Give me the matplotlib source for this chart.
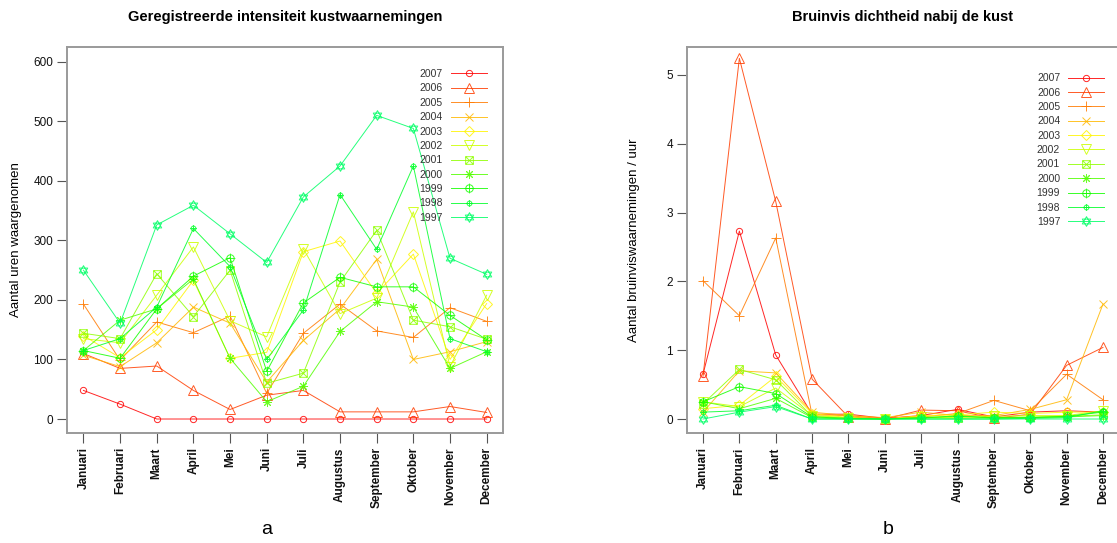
import colorsys
import matplotlib
matplotlib.use("Agg")
import matplotlib.pyplot as plt
from matplotlib.path import Path

plt.rcParams['font.family'] = ['Liberation Sans', 'DejaVu Sans']

# maanden en jaren
maanden = ['Januari', 'Februari', 'Maart', 'April', 'Mei', 'Juni', 'Juli',
           'Augustus', 'September', 'Oktober', 'November', 'December']
jaren = ['2007', '2006', '2005', '2004', '2003', '2002', '2001', '2000',
         '1999', '1998', '1997']

# uren waargenomen (paneel a)
uren_2007 = [48, 25, 0, 0, 0, 0, 0, 0, 0, 0, 0, 0]
uren_2006 = [110, 85, 89, 48, 16, 40, 48, 12, 12, 12, 21, 11]
uren_2005 = [193, 99, 163, 145, 173, 43, 144, 193, 148, 137, 187, 164]
uren_2004 = [107, 88, 128, 188, 161, 62, 132, 185, 268, 100, 113, 130]
uren_2003 = [140, 103, 150, 233, 102, 112, 281, 299, 211, 277, 100, 194]
uren_2002 = [135, 128, 208, 289, 165, 138, 286, 177, 203, 348, 88, 208]
uren_2001 = [144, 135, 244, 172, 250, 60, 77, 230, 317, 166, 155, 134]
uren_2000 = [115, 166, 185, 235, 102, 29, 55, 147, 197, 188, 85, 113]
uren_1999 = [115, 102, 185, 240, 271, 80, 195, 238, 222, 222, 174, 133]
uren_1998 = [115, 135, 188, 320, 256, 100, 183, 377, 285, 425, 135, 113]
uren_1997 = [250, 161, 326, 359, 311, 263, 373, 425, 510, 488, 270, 243]

# bruinvissen per uur (paneel b)
dicht_2007 = [0.65, 2.73, 0.93, 0.07, 0.07, 0.01, 0.05, 0.14, 0.03, 0.10, 0.12, 0.10]
dicht_2006 = [0.62, 5.24, 3.16, 0.58, 0.03, 0.00, 0.13, 0.12, 0.01, 0.07, 0.78, 1.04]
dicht_2005 = [2.01, 1.50, 2.63, 0.06, 0.05, 0.00, 0.03, 0.08, 0.27, 0.12, 0.65, 0.28]
dicht_2004 = [0.10, 0.70, 0.67, 0.10, 0.05, 0.02, 0.10, 0.05, 0.05, 0.14, 0.28, 1.67]
dicht_2003 = [0.15, 0.20, 0.62, 0.08, 0.02, 0.00, 0.05, 0.06, 0.10, 0.08, 0.10, 0.10]
dicht_2002 = [0.25, 0.18, 0.45, 0.05, 0.02, 0.00, 0.03, 0.02, 0.04, 0.05, 0.05, 0.12]
dicht_2001 = [0.22, 0.72, 0.57, 0.04, 0.01, 0.00, 0.02, 0.01, 0.02, 0.03, 0.04, 0.06]
dicht_2000 = [0.25, 0.15, 0.30, 0.02, 0.00, 0.00, 0.01, 0.05, 0.01, 0.02, 0.03, 0.05]
dicht_1999 = [0.25, 0.47, 0.37, 0.03, 0.01, 0.00, 0.02, 0.04, 0.02, 0.02, 0.04, 0.10]
dicht_1998 = [0.10, 0.12, 0.20, 0.00, 0.00, 0.00, 0.00, 0.00, 0.00, 0.01, 0.02, 0.12]
dicht_1997 = [0.00, 0.10, 0.18, 0.00, 0.00, 0.00, 0.00, 0.00, 0.00, 0.00, 0.00, 0.00]

uren = [uren_2007, uren_2006, uren_2005, uren_2004, uren_2003, uren_2002,
        uren_2001, uren_2000, uren_1999, uren_1998, uren_1997]
dicht = [dicht_2007, dicht_2006, dicht_2005, dicht_2004, dicht_2003, dicht_2002,
         dicht_2001, dicht_2000, dicht_1999, dicht_1998, dicht_1997]

# kleuren zoals rainbow(11, end=0.4) in R
kleuren = [colorsys.hsv_to_rgb(0.04 * i, 1, 1) for i in range(11)]


def samen(*paden):
    return Path.make_compound_path(*paden)


vierkant_kruis = samen(
    Path([(-1, -1), (1, -1), (1, 1), (-1, 1), (-1, -1)]),
    Path([(-1, -1), (1, 1)]), Path([(-1, 1), (1, -1)]))
cirkel_plus = samen(Path.unit_circle(),
                    Path([(-1.3, 0), (1.3, 0)]), Path([(0, -1.3), (0, 1.3)]))
davidster = samen(
    Path([(0, 1), (-0.866, -0.5), (0.866, -0.5), (0, 1)]),
    Path([(0, -1), (-0.866, 0.5), (0.866, 0.5), (0, -1)]))

markers = ['o', '^', '+', 'x', 'D', 'v', vierkant_kruis, (8, 2, 0),
           cirkel_plus, cirkel_plus, davidster]
msizes = [4.5, 6.5, 7.5, 5.5, 5.5, 6.5, 5.5, 6.5, 7, 4.5, 7]

fig = plt.figure(figsize=(11.17, 5.43), dpi=100)
ax1 = fig.add_axes([67.3 / 1117, 1 - 433.3 / 543, 435.5 / 1117, 385.8 / 543])
ax2 = fig.add_axes([687 / 1117, 1 - 433.4 / 543, 432 / 1117, 386.1 / 543])

x = list(range(12))
for ax, reeksen in [(ax1, uren), (ax2, dicht)]:
    for i, jaar in enumerate(jaren):
        ax.plot(x, reeksen[i], color=kleuren[i], lw=0.7, alpha=0.85,
                marker=markers[i], ms=msizes[i], mfc='none', mew=0.7,
                label=jaar)
    ax.set_xlim(-0.44, 11.44)
    ax.set_xticks(x)
    ax.set_xticklabels(maanden, rotation=90, fontsize=8.5, fontweight='bold')
    for s in ax.spines.values():
        s.set_color('#9a9a9a')
        s.set_linewidth(1.4)
    ax.tick_params(length=7, width=0.8, color='#555555', labelsize=8.5,
                   labelcolor='#111111', pad=3)

ax1.set_ylim(-24, 624)
ax1.set_yticks([0, 100, 200, 300, 400, 500, 600])
ax2.set_ylim(-0.209, 5.40)
ax2.set_yticks([0, 1, 2, 3, 4, 5])

ax1.legend(loc='upper right', bbox_to_anchor=(0.9626, 0.944), frameon=False,
           markerfirst=False, fontsize=7.5, handlelength=3.4, labelspacing=0.42,
           borderpad=0, borderaxespad=0, labelcolor='#333333')
ax2.legend(loc='upper right', bbox_to_anchor=(0.965, 0.933), frameon=False,
           markerfirst=False, fontsize=7.5, handlelength=3.4, labelspacing=0.42,
           borderpad=0, borderaxespad=0, labelcolor='#333333')

fig.text(285 / 1117, 1 - 17 / 543, 'Geregistreerde intensiteit kustwaarnemingen',
         ha='center', va='center', fontsize=10.5, fontweight='bold')
fig.text(903 / 1117, 1 - 17 / 543, 'Bruinvis dichtheid nabij de kust',
         ha='center', va='center', fontsize=10.5, fontweight='bold')
fig.text(16 / 1117, 1 - 240 / 543, 'Aantal uren waargenomen', rotation=90,
         ha='center', va='center', fontsize=9.5)
fig.text(634 / 1117, 1 - 240 / 543, 'Aantal bruinviswaarnemingen / uur',
         rotation=90, ha='center', va='center', fontsize=9.5)
fig.text(267 / 1117, 1 - 530 / 543, 'a', ha='center', va='center', fontsize=14)
fig.text(888 / 1117, 1 - 530 / 543, 'b', ha='center', va='center', fontsize=14)

fig.savefig('out.png', dpi=100)
